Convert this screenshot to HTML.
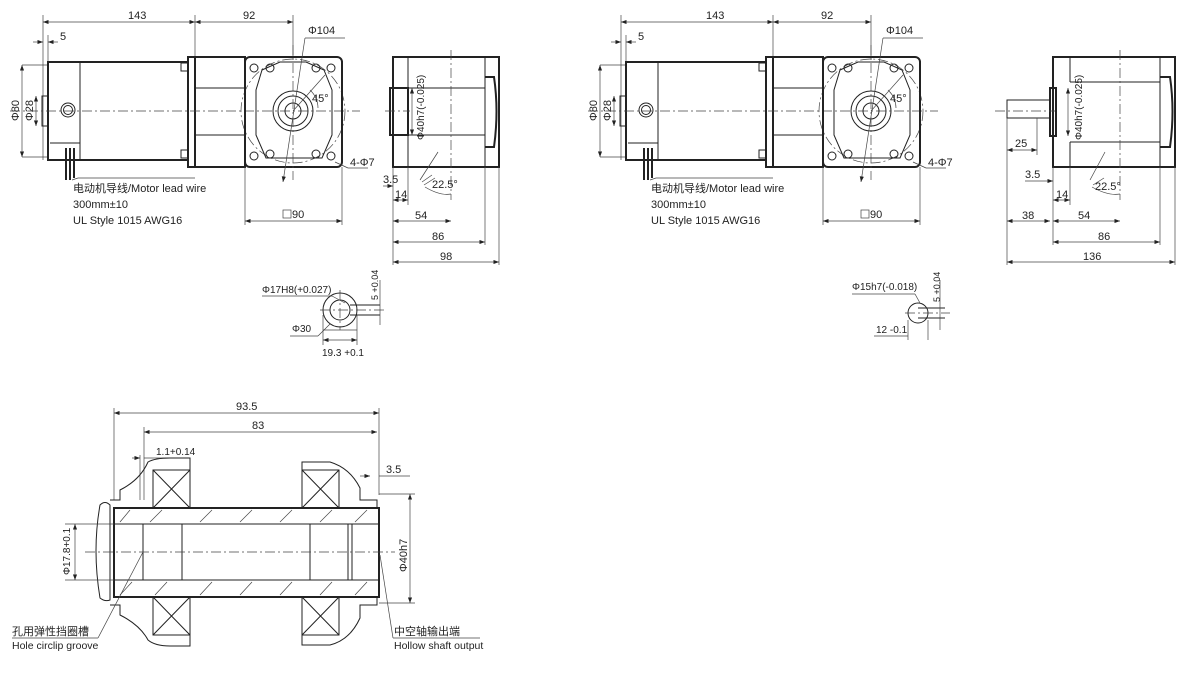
<!DOCTYPE html>
<html><head><meta charset="utf-8"><style>
body{margin:0;background:#fff}
svg{display:block}
text{font-family:"Liberation Sans","Noto Sans CJK SC",sans-serif;font-size:11px;fill:#222}
.l{stroke:#222;stroke-width:1;fill:none}
.t{stroke:#222;stroke-width:2;fill:none}
.d{stroke:#444;stroke-width:0.7;fill:none}
.c{stroke:#444;stroke-width:0.7;fill:none;stroke-dasharray:10 3 2 3}
</style></head><body>
<svg width="1200" height="675" viewBox="0 0 1200 675">
<defs>
<marker id="a" markerWidth="8" markerHeight="6" refX="8" refY="3" orient="auto-start-reverse"><path d="M0,0 L8,3 L0,6z" fill="#222"/></marker>
<g id="motor">
 <!-- dims top -->
 <line class="d" x1="43" y1="22" x2="195" y2="22" marker-start="url(#a)" marker-end="url(#a)"/>
 <line class="d" x1="195" y1="22" x2="293" y2="22" marker-start="url(#a)" marker-end="url(#a)"/>
 <text x="128" y="19">143</text><text x="243" y="19">92</text>
 <line class="d" x1="43" y1="15" x2="43" y2="160"/><line class="d" x1="195" y1="15" x2="195" y2="57"/><line class="d" x1="293" y1="15" x2="293" y2="60"/>
 <line class="d" x1="33" y1="42" x2="43" y2="42" marker-end="url(#a)"/><line class="d" x1="58" y1="42" x2="48" y2="42" marker-end="url(#a)"/>
 <text x="60" y="40">5</text><line class="d" x1="48" y1="35" x2="48" y2="62"/>
 <!-- phi80 -->
 <line class="d" x1="22" y1="65" x2="48" y2="65"/><line class="d" x1="22" y1="157" x2="48" y2="157"/>
 <line class="d" x1="22" y1="65" x2="22" y2="157" marker-start="url(#a)" marker-end="url(#a)"/>
 <text transform="translate(19,121) rotate(-90)">Φ80</text>
 <line class="d" x1="36" y1="96" x2="36" y2="126" marker-start="url(#a)" marker-end="url(#a)"/>
 <text transform="translate(33,121) rotate(-90)">Φ28</text>
 <rect class="l" x="42" y="96" width="6" height="30"/>
 <!-- motor body -->
 <rect class="t" x="48" y="62" width="140" height="98"/>
 <line class="l" x1="80" y1="62" x2="80" y2="160"/>
 <circle class="l" cx="68" cy="110" r="7"/><circle class="l" cx="68" cy="110" r="4.5"/>
 <path class="l" d="M50,143 H80" />
 <path class="t" d="M66,148 v32 M70,148 v32 M74,148 v30"/>
 <rect class="t" x="188" y="57" width="7" height="110"/>
 <rect class="l" x="181" y="63" width="7" height="8"/><rect class="l" x="181" y="150" width="7" height="8"/>
 <rect class="t" x="195" y="57" width="50" height="110"/>
 <line class="l" x1="195" y1="88" x2="245" y2="88"/><line class="l" x1="195" y1="135" x2="245" y2="135"/>
 <line class="c" x1="10" y1="111" x2="360" y2="111"/>
 <path class="d" d="M72,180 L78,178 H195"/>
 <text x="73" y="192">电动机导线/Motor lead wire</text>
 <text x="73" y="208">300mm±10</text>
 <text x="73" y="224">UL Style 1015 AWG16</text>
 <!-- front view -->
 <circle class="c" cx="293" cy="111" r="52"/>
 <rect class="t" x="245" y="57" width="97" height="110" rx="5"/>
 <path class="l" d="M262,70 L280,62 H306 L324,70 L332,90 V135 L322,158 H266 L256,135 V90Z"/>
 <circle class="l" cx="293" cy="111" r="20"/><circle class="l" cx="293" cy="111" r="15"/><circle class="l" cx="293" cy="111" r="8"/>
 <g class="l"><circle cx="254" cy="68" r="4"/><circle cx="331" cy="68" r="4"/><circle cx="254" cy="156" r="4"/><circle cx="331" cy="156" r="4"/>
 <circle cx="270" cy="68" r="4"/><circle cx="316" cy="68" r="4"/><circle cx="270" cy="154" r="4"/><circle cx="316" cy="154" r="4"/></g>
 <line class="c" x1="293" y1="45" x2="293" y2="180"/>
 <line class="d" x1="305" y1="38" x2="283" y2="182" marker-end="url(#a)"/>
 <line class="d" x1="305" y1="38" x2="345" y2="38"/><text x="308" y="34">Φ104</text>
 <line class="d" x1="293" y1="111" x2="325" y2="75"/><path class="d" d="M310,90 A25,25 0 0 1 318,108"/><text x="312" y="102">45°</text>
 <line class="d" x1="335" y1="162" x2="348" y2="168"/><line class="d" x1="348" y1="168" x2="368" y2="168"/><text x="350" y="166">4-Φ7</text>
 <line class="d" x1="245" y1="167" x2="245" y2="225"/><line class="d" x1="342" y1="167" x2="342" y2="225"/>
 <line class="d" x1="245" y1="221" x2="342" y2="221" marker-start="url(#a)" marker-end="url(#a)"/>
 <rect class="d" x="283" y="210" width="8" height="8"/><text x="292" y="218">90</text>
</g>
</defs>
<use href="#motor"/>
<use href="#motor" x="578"/>

<!-- left side view -->
<g>
 <rect class="t" x="393" y="57" width="106" height="110"/>
 <line class="l" x1="408" y1="57" x2="408" y2="88"/><line class="l" x1="408" y1="135" x2="408" y2="167"/>
 <line class="l" x1="408" y1="88" x2="485" y2="88"/><line class="l" x1="408" y1="135" x2="485" y2="135"/>
 <line class="l" x1="485" y1="57" x2="485" y2="167"/>
 <rect class="t" x="390" y="88" width="18" height="47"/>
 <path class="t" d="M485,77 H494 Q499,111 494,147 H485"/>
 <line class="c" x1="385" y1="111" x2="410" y2="111"/><line class="c" x1="451" y1="50" x2="451" y2="200"/>
 <line class="d" x1="412" y1="88" x2="412" y2="135" marker-start="url(#a)" marker-end="url(#a)"/>
 <text transform="translate(424,140) rotate(-90)" style="font-size:10px">Φ40h7(-0.025)</text>
 <line class="d" x1="420" y1="180" x2="438" y2="152"/><path class="d" d="M424,185 L435,178 M422,182 L432,175"/>
 <path class="d" d="M425,187 Q440,196 451,194"/><text x="432" y="188">22.5°</text>
 <text x="383" y="183">3.5</text><line class="d" x1="383" y1="186" x2="393" y2="186" marker-end="url(#a)"/>
 <line class="d" x1="393" y1="167" x2="393" y2="265"/><line class="d" x1="408" y1="167" x2="408" y2="205"/>
 <line class="d" x1="393" y1="200" x2="408" y2="200" marker-start="url(#a)" marker-end="url(#a)"/><text x="395" y="198">14</text>
 <line class="d" x1="393" y1="221" x2="451" y2="221" marker-start="url(#a)" marker-end="url(#a)"/><text x="415" y="219">54</text>
 <line class="d" x1="485" y1="167" x2="485" y2="245"/><line class="d" x1="499" y1="167" x2="499" y2="265"/>
 <line class="d" x1="393" y1="242" x2="485" y2="242" marker-start="url(#a)" marker-end="url(#a)"/><text x="432" y="240">86</text>
 <line class="d" x1="393" y1="262" x2="499" y2="262" marker-start="url(#a)" marker-end="url(#a)"/><text x="440" y="260">98</text>
</g>
<!-- right side view -->
<g transform="translate(660,0)">
 <rect class="t" x="393" y="57" width="106" height="110" style="display:none"/>
</g>
<g>
 <rect class="t" x="1053" y="57" width="122" height="110"/>
 <line class="l" x1="1070" y1="57" x2="1070" y2="82"/><line class="l" x1="1070" y1="142" x2="1070" y2="167"/>
 <line class="l" x1="1070" y1="82" x2="1160" y2="82"/><line class="l" x1="1070" y1="142" x2="1160" y2="142"/>
 <line class="l" x1="1160" y1="57" x2="1160" y2="167"/>
 <rect class="t" x="1050" y="88" width="6" height="48"/>
 <rect class="l" x="1007" y="100" width="43" height="18"/>
 <path class="t" d="M1160,77 H1170 Q1175,111 1170,147 H1160"/>
 <line class="c" x1="995" y1="111" x2="1055" y2="111"/><line class="c" x1="1120" y1="50" x2="1120" y2="200"/>
 <line class="d" x1="1068" y1="88" x2="1068" y2="136" marker-start="url(#a)" marker-end="url(#a)"/>
 <text transform="translate(1082,140) rotate(-90)" style="font-size:10px">Φ40h7(-0.025)</text>
 <line class="d" x1="1090" y1="180" x2="1105" y2="152"/><path class="d" d="M1093,185 L1104,178"/>
 <path class="d" d="M1092,187 Q1108,196 1120,194"/><text x="1095" y="190">22.5°</text>
 <line class="d" x1="1007" y1="118" x2="1007" y2="265"/><line class="d" x1="1037" y1="118" x2="1037" y2="155"/>
 <line class="d" x1="1007" y1="150" x2="1037" y2="150" marker-start="url(#a)" marker-end="url(#a)"/><text x="1015" y="147">25</text>
 <text x="1025" y="178">3.5</text><line class="d" x1="1025" y1="181" x2="1053" y2="181" marker-end="url(#a)"/>
 <line class="d" x1="1053" y1="167" x2="1053" y2="245"/><line class="d" x1="1070" y1="167" x2="1070" y2="205"/>
 <line class="d" x1="1053" y1="200" x2="1070" y2="200" marker-start="url(#a)" marker-end="url(#a)"/><text x="1056" y="198">14</text>
 <line class="d" x1="1007" y1="221" x2="1050" y2="221" marker-start="url(#a)" marker-end="url(#a)"/><text x="1022" y="219">38</text>
 <line class="d" x1="1053" y1="221" x2="1120" y2="221" marker-start="url(#a)" marker-end="url(#a)"/><text x="1078" y="219">54</text>
 <line class="d" x1="1160" y1="167" x2="1160" y2="245"/><line class="d" x1="1175" y1="167" x2="1175" y2="265"/>
 <line class="d" x1="1053" y1="242" x2="1160" y2="242" marker-start="url(#a)" marker-end="url(#a)"/><text x="1098" y="240">86</text>
 <line class="d" x1="1007" y1="262" x2="1175" y2="262" marker-start="url(#a)" marker-end="url(#a)"/><text x="1083" y="260">136</text>
</g>

<!-- small section left -->
<circle class="l" cx="340" cy="310" r="17"/><circle class="l" cx="340" cy="310" r="10"/>
<line class="c" x1="320" y1="310" x2="385" y2="310"/><line class="c" x1="340" y1="290" x2="340" y2="330"/>
<line class="l" x1="350" y1="305" x2="380" y2="305"/><line class="l" x1="350" y1="315" x2="380" y2="315"/>
<line class="d" x1="262" y1="296" x2="332" y2="296"/><line class="d" x1="332" y1="296" x2="345" y2="303"/>
<text x="262" y="293" style="font-size:10px">Φ17H8(+0.027)</text>
<text x="292" y="332" style="font-size:10px">Φ30</text><line class="d" x1="290" y1="336" x2="318" y2="336"/><line class="d" x1="318" y1="336" x2="330" y2="324"/>
<line class="d" x1="323" y1="330" x2="357" y2="330"/><line class="d" x1="323" y1="315" x2="323" y2="345"/><line class="d" x1="357" y1="315" x2="357" y2="345"/>
<line class="d" x1="323" y1="340" x2="357" y2="340" marker-start="url(#a)" marker-end="url(#a)"/>
<text x="322" y="356" style="font-size:10px">19.3 +0.1</text>
<line class="d" x1="380" y1="280" x2="380" y2="325"/><text transform="translate(378,300) rotate(-90)" style="font-size:9px">5 +0.04</text>
<!-- small section right -->
<circle class="l" cx="918" cy="313" r="10"/>
<line class="l" x1="918" y1="308" x2="945" y2="308"/><line class="l" x1="918" y1="318" x2="945" y2="318"/>
<line class="c" x1="905" y1="313" x2="950" y2="313"/>
<line class="d" x1="852" y1="294" x2="915" y2="294"/><line class="d" x1="915" y1="294" x2="920" y2="303"/>
<text x="852" y="290" style="font-size:10px">Φ15h7(-0.018)</text>
<line class="d" x1="940" y1="280" x2="940" y2="330"/><text transform="translate(940,302) rotate(-90)" style="font-size:9px">5 +0.04</text>
<line class="d" x1="874" y1="336" x2="908" y2="336"/><line class="d" x1="908" y1="320" x2="908" y2="340"/><line class="d" x1="928" y1="320" x2="928" y2="340"/>
<text x="876" y="333" style="font-size:10px">12 -0.1</text>

<!-- bottom hollow shaft -->
<g>
 <line class="d" x1="114" y1="413" x2="379" y2="413" marker-start="url(#a)" marker-end="url(#a)"/><text x="236" y="410">93.5</text>
 <line class="d" x1="144" y1="432" x2="377" y2="432" marker-start="url(#a)" marker-end="url(#a)"/><text x="252" y="429">83</text>
 <line class="d" x1="114" y1="408" x2="114" y2="500"/><line class="d" x1="144" y1="427" x2="144" y2="500"/><line class="d" x1="379" y1="408" x2="379" y2="495"/>
 <line class="d" x1="132" y1="458" x2="140" y2="458" marker-end="url(#a)"/><line class="d" x1="144" y1="458" x2="190" y2="458"/>
 <line class="d" x1="140" y1="455" x2="140" y2="500"/>
 <text x="156" y="455" style="font-size:10px">1.1+0.14</text>
 <line class="d" x1="360" y1="476" x2="370" y2="476" marker-end="url(#a)"/><line class="d" x1="379" y1="476" x2="410" y2="476"/><text x="386" y="473">3.5</text>
 <path class="l" d="M100,505 Q92,550 100,598 Q105,602 110,600 V505 Q105,500 100,505Z"/>
 <path class="l" d="M110,500 H120 V490 Q140,480 148,462 Q155,458 170,458 H190 V508 H302 V462 H330 Q350,468 360,488 V500 H377 V508"/>
 <path class="l" d="M110,605 H120 V615 Q140,625 148,640 Q155,646 170,646 H190 V597 H302 V645 H330 Q350,640 360,618 V605 H377 V597"/>
 <rect class="l" x="153" y="470" width="37" height="38"/><path class="l" d="M153,470 L190,508 M190,470 L153,508"/>
 <rect class="l" x="302" y="470" width="37" height="38"/><path class="l" d="M302,470 L339,508 M339,470 L302,508"/>
 <rect class="l" x="153" y="597" width="37" height="38"/><path class="l" d="M153,597 L190,635 M190,597 L153,635"/>
 <rect class="l" x="302" y="597" width="37" height="38"/><path class="l" d="M302,597 L339,635 M339,597 L302,635"/>
 <rect class="t" x="114" y="508" width="265" height="89"/>
 <line class="l" x1="114" y1="524" x2="379" y2="524"/><line class="l" x1="114" y1="580" x2="379" y2="580"/>
 <line class="l" x1="114" y1="526" x2="379" y2="526" style="display:none"/>
 <rect class="l" x="182" y="524" width="128" height="56"/>
 <line class="l" x1="143" y1="524" x2="143" y2="580"/><line class="l" x1="348" y1="524" x2="348" y2="580"/><line class="l" x1="352" y1="524" x2="352" y2="580"/>
 <g class="d"><path d="M120,522 L130,510 M150,522 L162,510 M200,522 L212,510 M240,522 L252,510 M280,522 L292,510 M320,522 L332,510 M355,522 L367,510"/>
 <path d="M120,595 L132,582 M155,595 L167,582 M200,595 L212,582 M240,595 L252,582 M280,595 L292,582 M320,595 L332,582 M355,595 L367,582"/></g>
 <line class="c" x1="85" y1="552" x2="395" y2="552"/>
 <line class="d" x1="65" y1="524" x2="114" y2="524"/><line class="d" x1="65" y1="580" x2="114" y2="580"/>
 <line class="d" x1="75" y1="524" x2="75" y2="580" marker-start="url(#a)" marker-end="url(#a)"/>
 <text transform="translate(70,575) rotate(-90)" style="font-size:10px">Φ17.8+0.1</text>
 <line class="d" x1="379" y1="494" x2="415" y2="494"/><line class="d" x1="379" y1="603" x2="415" y2="603"/>
 <line class="d" x1="410" y1="494" x2="410" y2="603" marker-start="url(#a)" marker-end="url(#a)"/>
 <text transform="translate(407,572) rotate(-90)">Φ40h7</text>
 <line class="d" x1="12" y1="638" x2="98" y2="638"/><line class="d" x1="98" y1="638" x2="143" y2="552"/>
 <text x="12" y="635">孔用弹性挡圈槽</text><text x="12" y="649" style="font-size:10.5px">Hole circlip groove</text>
 <line class="d" x1="393" y1="638" x2="480" y2="638"/><line class="d" x1="393" y1="638" x2="380" y2="555"/>
 <text x="394" y="635">中空轴输出端</text><text x="394" y="649" style="font-size:10.5px">Hollow shaft output</text>
</g>
</svg>
</body></html>
